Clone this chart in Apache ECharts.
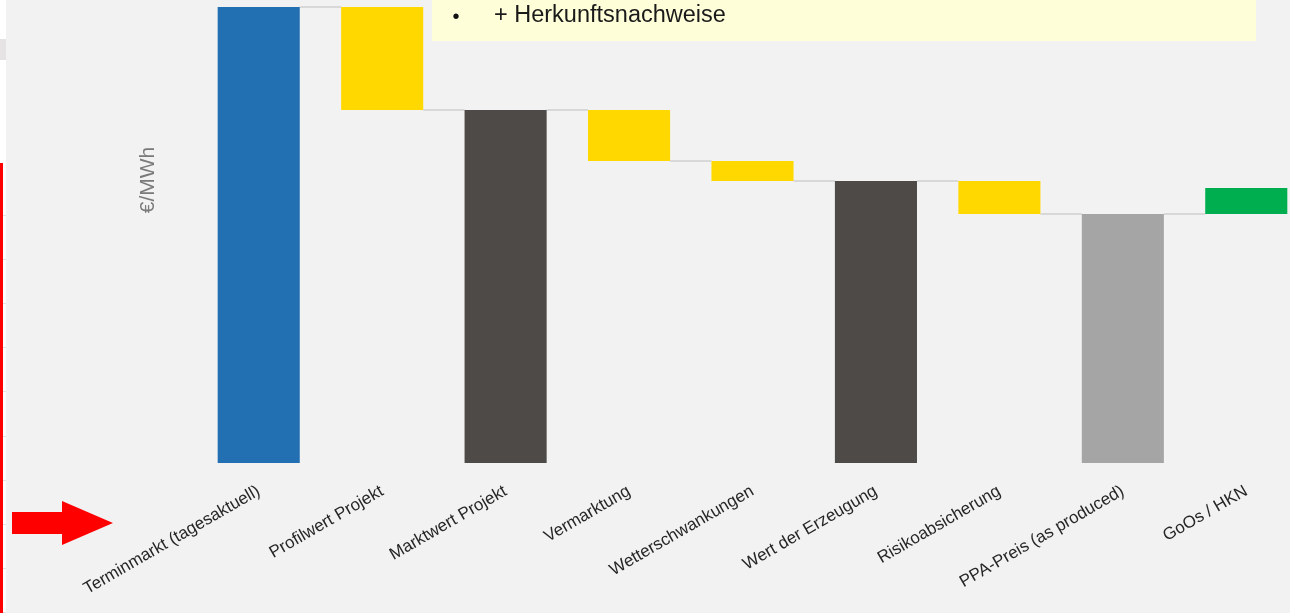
<!DOCTYPE html>
<html>
<head>
<meta charset="utf-8">
<title>PPA-Preis Wasserfall</title>
<script src="https://cdn.jsdelivr.net/npm/echarts@6/dist/echarts.min.js"></script>
<style>
  html, body { margin: 0; padding: 0; background: #f2f2f2; overflow: hidden; width: 1290px; height: 613px; }
  #chart { width: 1320px; height: 613px; }
</style>
</head>
<body>
<div id="chart"></div>
<script>
// Kategorien des Wasserfalls (Preisbildung vom Terminmarkt bis zum PPA-Preis)
const categories = [
  'Terminmarkt (tagesaktuell)',
  'Profilwert Projekt',
  'Marktwert Projekt',
  'Vermarktung',
  'Wetterschwankungen',
  'Wert der Erzeugung',
  'Risikoabsicherung',
  'PPA-Preis (as produced)',
  'GoOs / HKN'
];
// Werte in €/MWh: Summenbalken als Absolutwert, sonst Veränderung
const values = [91.2, -20.6, 70.6, -10.2, -4.0, 56.4, -6.6, 49.8, 5.2];
const isTotal = [true, false, true, false, false, true, false, true, false];
const unitLabel = '€/MWh';
const noteText = '+ Herkunftsnachweise';

// Laufende Summe -> untere/obere Kante jedes Balkens
const bars = [];
const levels = [];
let running = 0;
values.forEach((v, i) => {
  let low, high;
  if (isTotal[i]) {
    low = 0; high = v; running = v;
  } else {
    const next = running + v;
    low = Math.min(running, next); high = Math.max(running, next);
    running = next;
  }
  bars.push([i, low, high, v]);
  levels.push(running);
});
const connectors = levels.slice(0, -1).map((lv, i) => [i, lv]);

const lastTotal = isTotal.lastIndexOf(true);
function barColor(i, v) {
  if (isTotal[i]) {
    if (i === 0) return '#2270b2';
    if (i === lastTotal) return '#a5a5a5';
    return '#4e4a47';
  }
  return v < 0 ? '#ffd800' : '#00ae4f';
}
const BAR_RATIO = 0.665;

// Randmarkierungen am linken Folienrand
const edgeTicks = [];
for (let y = 215; y < 613; y += 44.1) {
  edgeTicks.push({ type: 'rect', shape: { x: 3, y: Math.round(y), width: 3, height: 1 }, style: { fill: '#e2e2e2' } });
}

const chart = echarts.init(document.getElementById('chart'), null, { renderer: 'canvas' });
chart.setOption({
  backgroundColor: '#f2f2f2',
  animation: false,
  grid: { left: 197, width: 1111, top: 3, bottom: 150, containLabel: false },
  xAxis: {
    type: 'category',
    data: categories,
    axisLine: { show: false },
    axisTick: { show: false },
    axisLabel: {
      interval: 0,
      rotate: 30,
      margin: 27,
      fontFamily: 'Liberation Sans, Arial, sans-serif',
      fontSize: 17,
      color: '#262626'
    }
  },
  yAxis: {
    type: 'value',
    min: 0,
    max: 92,
    show: false,
    splitLine: { show: false }
  },
  series: [
    {
      // Verbindungslinien zwischen den Balken
      type: 'custom',
      z: 1,
      data: connectors,
      renderItem: function (params, api) {
        const i = api.value(0);
        const lv = api.value(1);
        const bw = api.size([1, 0])[0] * BAR_RATIO;
        const p1 = api.coord([i, lv]);
        const p2 = api.coord([i + 1, lv]);
        return {
          type: 'line',
          shape: { x1: p1[0] + bw / 2, y1: p1[1], x2: p2[0] - bw / 2, y2: p2[1] },
          style: { stroke: '#cfcfcf', lineWidth: 1.5 }
        };
      }
    },
    {
      // Wasserfall-Balken
      type: 'custom',
      z: 2,
      data: bars,
      encode: { x: 0, y: [1, 2] },
      renderItem: function (params, api) {
        const i = api.value(0);
        const top = api.coord([i, api.value(2)]);
        const bottom = api.coord([i, api.value(1)]);
        const bw = api.size([1, 0])[0] * BAR_RATIO;
        return {
          type: 'rect',
          shape: { x: top[0] - bw / 2, y: top[1], width: bw, height: bottom[1] - top[1] },
          style: { fill: barColor(i, api.value(3)) }
        };
      }
    }
  ],
  graphic: [
    // Achsenbeschriftung
    {
      type: 'text',
      x: 148, y: 180,
      rotation: Math.PI / 2,
      style: {
        text: unitLabel,
        fontFamily: 'Liberation Sans, Arial, sans-serif',
        fontSize: 21,
        fill: '#7a7a7a',
        align: 'center',
        verticalAlign: 'middle'
      }
    },
    // Hinweisbox oben
    {
      type: 'rect',
      shape: { x: 432, y: -4, width: 824, height: 45 },
      style: { fill: '#fefed9' }
    },
    {
      type: 'text',
      x: 456, y: 17,
      style: { text: '•', fontFamily: 'Liberation Sans, Arial, sans-serif', fontSize: 20, fill: '#111', align: 'center', verticalAlign: 'middle' }
    },
    {
      type: 'text',
      x: 494, y: 16,
      style: { text: noteText, fontFamily: 'Liberation Sans, Arial, sans-serif', fontSize: 23.5, fill: '#1a1a1a', verticalAlign: 'middle' }
    },
    // linker Rand
    { type: 'rect', shape: { x: 0, y: 0, width: 6, height: 613 }, style: { fill: '#ffffff' } },
    { type: 'rect', shape: { x: 0, y: 39, width: 6, height: 21 }, style: { fill: '#e5e3e3' } },
    ...edgeTicks,
    { type: 'rect', shape: { x: 0, y: 163, width: 3, height: 450 }, style: { fill: '#ff0000' } },
    // Pfeil
    {
      type: 'polygon',
      shape: { points: [[12, 512], [62, 512], [62, 501], [113, 523], [62, 545], [62, 534], [12, 534]] },
      style: { fill: '#ff0000' }
    }
  ]
});
</script>
</body>
</html>
